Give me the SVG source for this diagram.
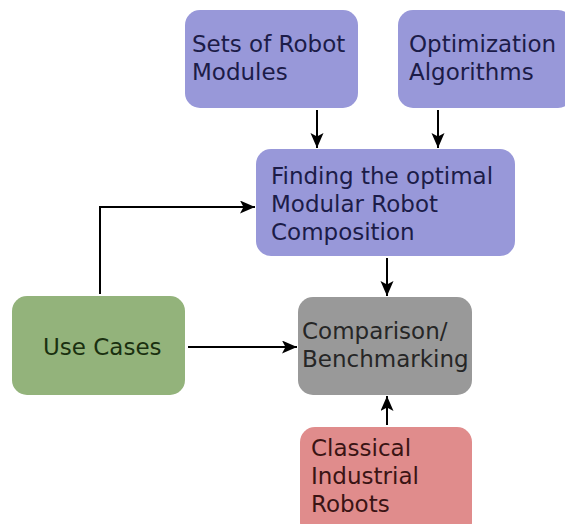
<svg xmlns="http://www.w3.org/2000/svg" width="565" height="524" viewBox="0 0 565 524">
<defs>
<marker id="ah" markerWidth="16" markerHeight="14" refX="15" refY="6.5" orient="auto" markerUnits="userSpaceOnUse">
<path d="M0,0 L15,6.5 L0,13 L3.5,6.5 Z" fill="#000"/>
</marker>
<style>
.t{font-family:"DejaVu Sans",Verdana,sans-serif;font-size:23px}
.blue rect{fill:#9898d9}
.blue text{fill:#1c1c48}
.c{stroke:#000;stroke-width:2;fill:none;marker-end:url(#ah)}
</style>
</defs>
<rect width="565" height="524" fill="#fff"/>
<g id="sets" class="blue">
<rect x="185" y="10" width="173" height="98" rx="15"/>
<text class="t" x="192" y="52">Sets of Robot</text>
<text class="t" x="192" y="80">Modules</text>
</g>
<g id="optim" class="blue">
<rect x="398" y="10" width="175" height="98" rx="15"/>
<text class="t" x="409" y="52">Optimization</text>
<text class="t" x="409" y="80">Algorithms</text>
</g>
<g id="finding" class="blue">
<rect x="256" y="149" width="259" height="107" rx="15"/>
<text class="t" x="271" y="184">Finding the optimal</text>
<text class="t" x="271" y="212">Modular Robot</text>
<text class="t" x="271" y="240">Composition</text>
</g>
<g id="usecases">
<rect x="12" y="296" width="173" height="99" rx="15" fill="#93b37b"/>
<text class="t" x="43" y="355" fill="#1a3010">Use Cases</text>
</g>
<g id="comparison">
<rect x="298" y="297" width="174" height="98" rx="15" fill="#999999"/>
<text class="t" x="302" y="339" fill="#262626">Comparison/</text>
<text class="t" x="302" y="367" fill="#262626">Benchmarking</text>
</g>
<g id="classical">
<rect x="300" y="427" width="172" height="110" rx="15" fill="#e08c8c"/>
<text class="t" x="311" y="456" fill="#3a1414">Classical</text>
<text class="t" x="311" y="484" fill="#3a1414">Industrial</text>
<text class="t" x="311" y="512" fill="#3a1414">Robots</text>
</g>
<g id="connectors">
<path class="c" d="M317,110 L317,148"/>
<path class="c" d="M438,110 L438,148"/>
<path class="c" d="M387,258 L387,296"/>
<path class="c" d="M100,294 L100,207 L255,207"/>
<path class="c" d="M188,347 L297,347"/>
<path class="c" d="M387,425 L387,396"/>
</g>
</svg>
